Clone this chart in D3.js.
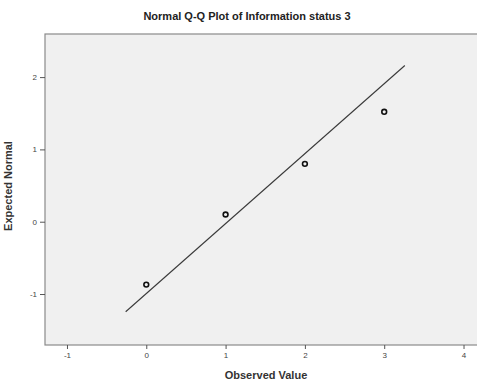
<!DOCTYPE html>
<html>
<head>
<meta charset="utf-8">
<script src="https://cdn.jsdelivr.net/npm/d3@7"></script>
<style>
  html, body { margin: 0; padding: 0; background: #ffffff; }
  svg { display: block; font-family: "Liberation Sans", Arial, sans-serif; }
</style>
</head>
<body>
<svg id="chart" width="477" height="385"></svg>
<script>
// Observed values and their expected normal quantiles
const observed = [0, 1, 2, 3];
const expected = [-0.87, 0.10, 0.80, 1.52];

// Reference line endpoints (observed, expected)
const lineObserved = [-0.26, 3.26];
const lineExpected = [-1.245, 2.16];

const xTicks = [-1, 0, 1, 2, 3, 4];
const yTicks = [-1, 0, 1, 2];

const title = "Normal Q-Q Plot of Information status 3";
const xTitle = "Observed Value";
const yTitle = "Expected Normal";

const svg = d3.select("#chart");
const plot = { left: 45, right: 482, top: 34, bottom: 345 };

const x = d3.scaleLinear().domain([-1.277, 4.233]).range([plot.left, plot.right]);
const y = d3.scaleLinear().domain([-1.705, 2.596]).range([plot.bottom, plot.top]);

// plot area
svg.append("rect")
  .attr("x", plot.left).attr("y", plot.top)
  .attr("width", plot.right - plot.left).attr("height", plot.bottom - plot.top)
  .attr("fill", "#f0f0f0")
  .attr("stroke", "#8a8a8a").attr("stroke-width", 1.2);

// axes (plain hyphen for negative labels)
const plain = d => String(d);
const xAxis = d3.axisBottom(x).tickValues(xTicks).tickSize(4).tickPadding(3).tickFormat(plain);
const yAxis = d3.axisLeft(y).tickValues(yTicks).tickSize(5).tickPadding(3).tickFormat(plain);

const gx = svg.append("g").attr("transform", `translate(0,${plot.bottom})`).call(xAxis);
const gy = svg.append("g").attr("transform", `translate(${plot.left},0)`).call(yAxis);
[gx, gy].forEach(g => {
  g.select(".domain").remove();
  g.selectAll(".tick line").attr("stroke", "#555").attr("stroke-width", 1);
  g.selectAll(".tick text").attr("fill", "#444").style("font-size", "8px")
    .style("font-family", "'Liberation Sans', Arial, sans-serif");
});

// reference line
svg.append("line")
  .attr("x1", x(lineObserved[0])).attr("y1", y(lineExpected[0]))
  .attr("x2", x(lineObserved[1])).attr("y2", y(lineExpected[1]))
  .attr("stroke", "#3a3a3a").attr("stroke-width", 1.1);

// points
svg.append("g").selectAll("circle")
  .data(observed.map((v, i) => ({ o: v, e: expected[i] })))
  .join("circle")
  .attr("cx", d => x(d.o)).attr("cy", d => y(d.e))
  .attr("r", 2.4)
  .attr("fill", "none").attr("stroke", "#111").attr("stroke-width", 1.6);

// titles
svg.append("text")
  .attr("x", 247).attr("y", 19.5)
  .attr("text-anchor", "middle")
  .style("font-size", "11px").style("font-weight", "bold").attr("fill", "#222")
  .text(title);

svg.append("text")
  .attr("x", 266).attr("y", 379)
  .attr("text-anchor", "middle")
  .style("font-size", "11px").style("font-weight", "bold").attr("fill", "#333")
  .text(xTitle);

svg.append("text")
  .attr("transform", "translate(12,186) rotate(-90)")
  .attr("text-anchor", "middle")
  .style("font-size", "11px").style("font-weight", "bold").attr("fill", "#333")
  .text(yTitle);
</script>
</body>
</html>
